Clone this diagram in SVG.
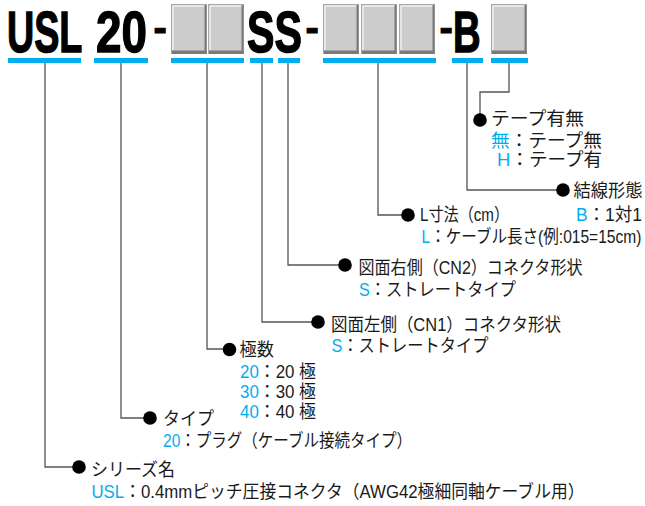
<svg xmlns="http://www.w3.org/2000/svg" width="645" height="506" viewBox="0 0 645 506">
<defs>
<style>
.big{font-family:"Liberation Sans",Arial,sans-serif;font-weight:bold;font-size:58px;fill:#000;stroke:#000;stroke-width:1.4}
.dash{font-family:"Liberation Sans",Arial,sans-serif;font-weight:bold;font-size:40px;fill:#000;stroke:#000;stroke-width:1}
.t{font-family:"Liberation Sans","Noto Sans CJK JP",sans-serif;font-size:18px;fill:#1a1a1a}
.b{fill:#00aeef}
.ul{fill:#00aeef}
.ln{fill:none;stroke:#555;stroke-width:1.3}
.dot{fill:#000}
.box{fill:#cccccc;stroke:#a8a8a8;stroke-width:1}
.hl{fill:none;stroke:#fff;stroke-width:1}
.sh{fill:#7a7a7a}
</style>
<g id="cell">
<rect class="box" x="0.5" y="0.5" width="35" height="49"/>
<path class="hl" d="M2,46 V2 H34"/>
<rect class="sh" x="1" y="46.5" width="34.5" height="3.5"/>
<rect class="sh" x="33.5" y="1" width="2" height="49"/>
</g>
</defs>
<rect width="645" height="506" fill="#fff"/>

<g id="code">
<text class="big" transform="translate(7,52) scale(0.65,1)">USL</text>
<text class="big" transform="translate(96,52) scale(0.79,1)">20</text>
<text class="dash" x="153.5" y="41">-</text>
<use href="#cell" x="171" y="4"/>
<use href="#cell" x="208" y="4"/>
<text class="big" transform="translate(247,52) scale(0.71,1)">SS</text>
<text class="dash" x="305.5" y="41">-</text>
<use href="#cell" x="323" y="4"/>
<use href="#cell" x="361" y="4"/>
<use href="#cell" x="399" y="4"/>
<text class="dash" x="439.5" y="41">-</text>
<text class="big" transform="translate(453,52) scale(0.66,1)">B</text>
<use href="#cell" x="491" y="4"/>
</g>

<g id="underlines">
<rect class="ul" x="8" y="58" width="73" height="5"/>
<rect class="ul" x="94" y="58" width="54" height="5"/>
<rect class="ul" x="171" y="58" width="73" height="5"/>
<rect class="ul" x="250" y="58" width="23" height="5"/>
<rect class="ul" x="278" y="58" width="22" height="5"/>
<rect class="ul" x="323" y="58" width="113" height="5"/>
<rect class="ul" x="452" y="58" width="31" height="5"/>
<rect class="ul" x="491" y="58" width="37" height="5"/>
</g>

<g id="connectors">
<path class="ln" d="M45,63 V467 H79"/>
<path class="ln" d="M121,63 V418 H150"/>
<path class="ln" d="M207,63 V349 H229"/>
<path class="ln" d="M262,63 V322 H318"/>
<path class="ln" d="M288,63 V265 H345"/>
<path class="ln" d="M378,63 V215 H408"/>
<path class="ln" d="M467,63 V190 H563"/>
<path class="ln" d="M509,63 V92 H480 V120"/>
</g>

<g id="n-tape">
<circle class="dot" cx="480" cy="120" r="6.8"/>
<text class="t" x="491" y="125" textLength="93" lengthAdjust="spacingAndGlyphs">テープ有無</text>
<text class="t" x="491" y="147" textLength="111" lengthAdjust="spacingAndGlyphs"><tspan class="b">無</tspan>：テープ無</text>
<text class="t" x="497" y="166" textLength="105" lengthAdjust="spacingAndGlyphs"><tspan class="b">H</tspan>：テープ有</text>
</g>

<g id="n-wiring">
<circle class="dot" cx="563" cy="190" r="6.8"/>
<text class="t" x="573.5" y="197" textLength="69" lengthAdjust="spacingAndGlyphs">結線形態</text>
<text class="t" x="576" y="221" textLength="66" lengthAdjust="spacingAndGlyphs"><tspan class="b">B</tspan>：1対1</text>
</g>

<g id="n-length">
<circle class="dot" cx="408" cy="215" r="6.8"/>
<text class="t" x="420" y="221" textLength="89" lengthAdjust="spacingAndGlyphs">L寸法（cm）</text>
<text class="t" transform="translate(421.5,243) scale(0.865,1)"><tspan class="b">L</tspan>：ケーブル長さ(例:015=15cm)</text>
</g>

<g id="n-cn2">
<circle class="dot" cx="345" cy="265" r="6.8"/>
<text class="t" x="358.5" y="274" textLength="224" lengthAdjust="spacingAndGlyphs">図面右側（CN2）コネクタ形状</text>
<text class="t" x="359" y="296" textLength="157" lengthAdjust="spacingAndGlyphs"><tspan class="b">S</tspan>：ストレートタイプ</text>
</g>

<g id="n-cn1">
<circle class="dot" cx="318" cy="322" r="6.8"/>
<text class="t" x="331" y="331" textLength="230" lengthAdjust="spacingAndGlyphs">図面左側（CN1）コネクタ形状</text>
<text class="t" x="331.5" y="352" textLength="157" lengthAdjust="spacingAndGlyphs"><tspan class="b">S</tspan>：ストレートタイプ</text>
</g>

<g id="n-poles">
<circle class="dot" cx="229.5" cy="349.5" r="6.8"/>
<text class="t" x="239.5" y="356" textLength="34.5" lengthAdjust="spacingAndGlyphs">極数</text>
<text class="t" x="240" y="378" textLength="76" lengthAdjust="spacingAndGlyphs"><tspan class="b">20</tspan>：20 極</text>
<text class="t" x="240" y="398" textLength="76" lengthAdjust="spacingAndGlyphs"><tspan class="b">30</tspan>：30 極</text>
<text class="t" x="240" y="418" textLength="76" lengthAdjust="spacingAndGlyphs"><tspan class="b">40</tspan>：40 極</text>
</g>

<g id="n-type">
<circle class="dot" cx="150" cy="418" r="6.8"/>
<text class="t" x="163" y="424.5" textLength="51" lengthAdjust="spacingAndGlyphs">タイプ</text>
<text class="t" transform="translate(163,447) scale(0.862,1)"><tspan class="b">20</tspan>：プラグ（ケーブル接続タイプ）</text>
</g>

<g id="n-series">
<circle class="dot" cx="79" cy="467" r="6.8"/>
<text class="t" x="91" y="476" textLength="84" lengthAdjust="spacingAndGlyphs">シリーズ名</text>
<text class="t" x="91.5" y="498" textLength="493" lengthAdjust="spacingAndGlyphs"><tspan class="b">USL</tspan>：0.4mmピッチ圧接コネクタ（AWG42極細同軸ケーブル用）</text>
</g>
</svg>
